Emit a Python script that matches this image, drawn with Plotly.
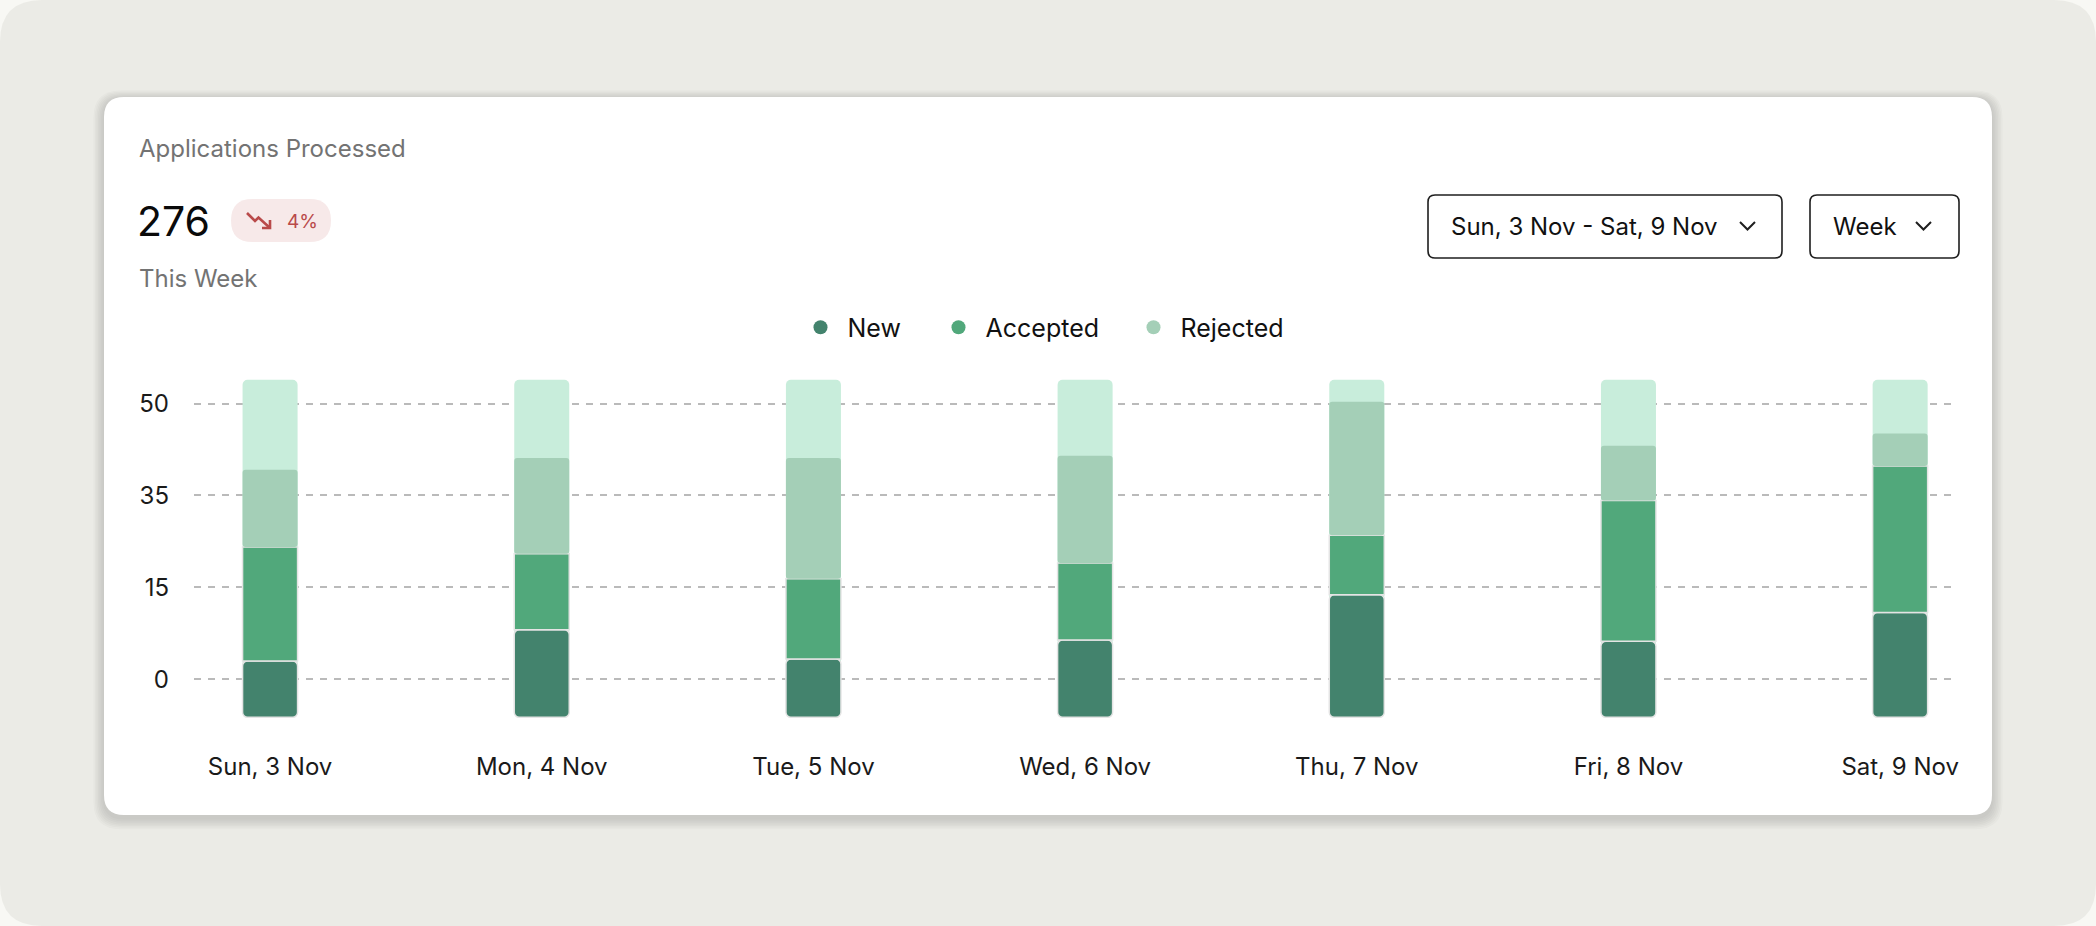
import plotly.graph_objects as go

W, H = 2096, 926

# data
days = ["Sun, 3 Nov", "Mon, 4 Nov", "Tue, 5 Nov", "Wed, 6 Nov", "Thu, 7 Nov", "Fri, 8 Nov", "Sat, 9 Nov"]
new = [9.2, 14.3, 9.5, 12.6, 20.0, 12.4, 17.1]
accepted = [18.6, 12.4, 13.1, 12.6, 9.7, 23.0, 23.9]
rejected = [12.6, 15.6, 19.7, 17.5, 21.8, 8.9, 5.3]
tick_vals = [0, 15, 30, 45]
tick_text = ["0", "15", "35", "50"]
total_label = "276"
change_label = "4%"
range_label = "Sun, 3 Nov - Sat, 9 Nov"
period_label = "Week"

BAR_BOTTOM = -6.2
TRACK_TOP = 48.9

C_NEW = "#43836d"
C_ACC = "#51a87b"
C_REJ = "#a4cfb7"
C_TRACK = "#c8eddb"
FONT = "Inter"


def px(x):
    return x / W


def py(y):
    return 1 - y / H


def rrect(x0, y0, x1, y1, r):
    # rounded rectangle path in pixel coords -> paper coords
    pts = [
        ("M", [(x0 + r, y0)]),
        ("L", [(x1 - r, y0)]), ("Q", [(x1, y0), (x1, y0 + r)]),
        ("L", [(x1, y1 - r)]), ("Q", [(x1, y1), (x1 - r, y1)]),
        ("L", [(x0 + r, y1)]), ("Q", [(x0, y1), (x0, y1 - r)]),
        ("L", [(x0, y0 + r)]), ("Q", [(x0, y0), (x0 + r, y0)]),
    ]
    s = ""
    for cmd, ps in pts:
        s += cmd + " ".join(f"{px(a):.5f},{py(b):.5f}" for a, b in ps) + " "
    return s + "Z"


def polyline(points):
    return "M" + " L".join(f"{px(a):.5f},{py(b):.5f}" for a, b in points)


bases_acc = [BAR_BOTTOM + n for n in new]
bases_rej = [b + a for b, a in zip(bases_acc, accepted)]

fig = go.Figure()

# background track
fig.add_trace(go.Bar(x=days, y=[TRACK_TOP - BAR_BOTTOM] * len(days), base=BAR_BOTTOM,
                     marker=dict(color=C_TRACK, cornerradius=5, line=dict(width=0)),
                     width=0.2025, showlegend=False, hoverinfo="skip"))
# New drawn downward from its top so the rounded end sits at the bottom
fig.add_trace(go.Bar(x=days, y=[-v for v in new], base=bases_acc, name="New",
                     marker=dict(color=C_NEW, cornerradius=5, line=dict(color="#e4e4e4", width=1.5)),
                     width=0.2025, showlegend=False))
fig.add_trace(go.Bar(x=days, y=accepted, base=bases_acc, name="Accepted",
                     marker=dict(color=C_ACC, line=dict(color="#e4e4e4", width=1.5)),
                     width=0.2025, showlegend=False))
fig.add_trace(go.Bar(x=days, y=rejected, base=bases_rej, name="Rejected",
                     marker=dict(color=C_REJ, cornerradius=3, line=dict(width=0)),
                     width=0.2025, showlegend=False))

# legend entries with round dots, one legend each
for name, col, lg in [("New", C_NEW, "legend"), ("Accepted", C_ACC, "legend2"), ("Rejected", C_REJ, "legend3")]:
    fig.add_trace(go.Scatter(x=[None], y=[None], mode="markers", name=name,
                             marker=dict(color=col, size=14), legend=lg))

legend_style = dict(orientation="h", yanchor="middle", y=py(327.5), xanchor="left",
                    bgcolor="rgba(0,0,0,0)", itemwidth=44,
                    font=dict(family=FONT, size=25, color="#111111"))

shapes = [dict(type="path", path=rrect(0, 0, W, H, 42), fillcolor="#ebebe6",
               line=dict(width=0), layer="below")]
for i in range(1, 8):
    shapes.append(dict(type="path", path=rrect(104 - i * 1.5, 99 - i * 1.2, 1992 + i * 1.5, 815 + 3 + i * 1.6, 20 + i),
                       fillcolor="rgba(40,40,30,0.022)", line=dict(width=0), layer="below"))
shapes += [
    dict(type="path", path=rrect(104, 97, 1992, 815, 20), fillcolor="white", line=dict(width=0), layer="below"),
    # badge
    dict(type="path", path=rrect(231, 199, 331, 242, 21.5), fillcolor="#f7e9e9", line=dict(width=0), layer="below"),
    dict(type="path", path=polyline([(247, 213), (255, 221), (258.5, 217.5), (270, 228)]),
         line=dict(color="#b94a4a", width=2.6)),
    dict(type="path", path=polyline([(262, 228), (270, 228), (270, 220)]),
         line=dict(color="#b94a4a", width=2.6)),
    # dropdowns
    dict(type="path", path=rrect(1428, 195, 1782, 258, 7), fillcolor="white",
         line=dict(color="#1f1f1f", width=1.6), layer="below"),
    dict(type="path", path=polyline([(1740, 222), (1747.5, 229.5), (1755, 222)]),
         line=dict(color="#1f1f1f", width=2)),
    dict(type="path", path=rrect(1810, 195, 1959, 258, 7), fillcolor="white",
         line=dict(color="#1f1f1f", width=1.6), layer="below"),
    dict(type="path", path=polyline([(1916, 222), (1923.5, 229.5), (1931, 222)]),
         line=dict(color="#1f1f1f", width=2)),
]
for s in shapes:
    s.update(xref="paper", yref="paper")

annotations = [
    dict(text="Applications Processed", x=px(137), y=py(148), font=dict(size=24, color="#737373")),
    dict(text=total_label, x=px(135), y=py(221), font=dict(size=41, color="#0a0a0a")),
    dict(text=change_label, x=px(285), y=py(221), font=dict(size=19, color="#b94a4a")),
    dict(text="This Week", x=px(137), y=py(278), font=dict(size=24, color="#737373")),
    dict(text=range_label, x=px(1449), y=py(226), font=dict(size=24, color="#111111")),
    dict(text=period_label, x=px(1831), y=py(226), font=dict(size=24, color="#111111")),
]
for a in annotations:
    a.update(xref="paper", yref="paper", xanchor="left", yanchor="middle", showarrow=False)
    a["font"]["family"] = FONT

fig.update_layout(
    width=W, height=H,
    margin=dict(l=0, r=0, t=0, b=0),
    paper_bgcolor="#f8f8f4",
    plot_bgcolor="rgba(0,0,0,0)",
    barmode="overlay",
    font=dict(family=FONT, size=24, color="#1a1a1a"),
    shapes=shapes,
    annotations=annotations,
    legend=dict(legend_style, x=px(819 - 25.5)),
    legend2=dict(legend_style, x=px(957 - 25.5)),
    legend3=dict(legend_style, x=px(1152 - 25.5)),
    hovermode=False,
)
fig.update_xaxes(domain=[px(194), px(1958)], range=[-0.28, 6.213], showgrid=False, zeroline=False,
                 showline=False, ticks="", ticklabelstandoff=20, automargin=False,
                 tickfont=dict(family=FONT, size=24, color="#1a1a1a"))
fig.update_yaxes(domain=[py(730), py(370)], range=[-8.27, 50.48], tickvals=tick_vals, ticktext=tick_text,
                 showgrid=True, gridcolor="#bababa", gridwidth=1.6, griddash="7px,7px", zeroline=False,
                 showline=False, ticks="", ticklabelstandoff=24, automargin=False,
                 tickfont=dict(family=FONT, size=24, color="#1a1a1a"))

fig.write_html("out.html", config={"displayModeBar": False},
               post_script="document.body.style.margin='0';document.body.style.background='#f8f8f4';")
